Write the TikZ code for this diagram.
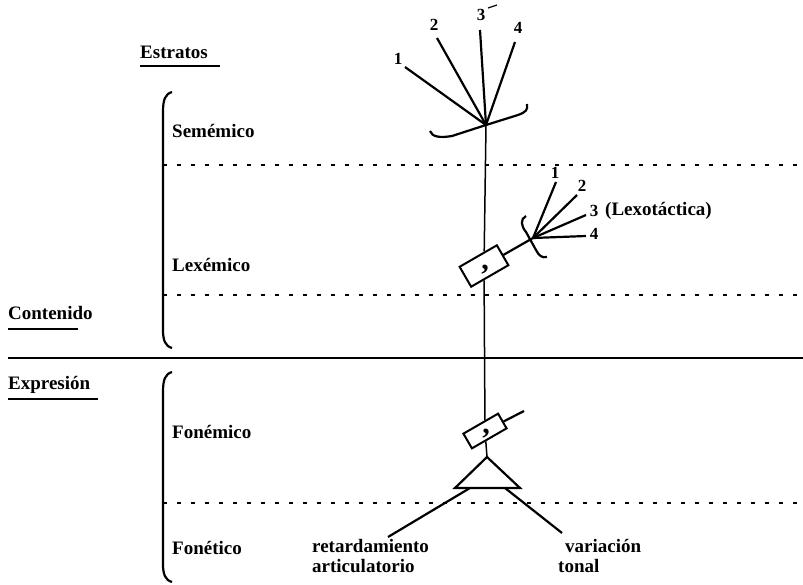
\documentclass[tikz,border=0pt]{standalone}
\usepackage{fontspec}
\setmainfont{Liberation Serif}
\begin{document}
\begin{tikzpicture}[x=1pt,y=-1pt,
  lab/.style={font=\fontsize{19}{22}\selectfont\bfseries, anchor=base west, inner sep=0pt},
  txt/.style={font=\fontsize{19}{22}\selectfont\bfseries, anchor=base west, inner sep=0pt},
  num/.style={font=\fontsize{17}{19}\selectfont\bfseries, inner sep=0pt},
  stroke/.style={line width=2.2pt},
  thin/.style={line width=1.5pt},
  dotline/.style={line width=1.8pt, dash pattern=on 4pt off 10pt},
  ubar/.style={line width=2.2pt},
  boxnode/.style={draw, line width=2pt, rotate=30, inner sep=0pt},
  commamark/.style={font=\fontsize{30}{30}\selectfont\bfseries, inner sep=0pt}
]
\useasboundingbox (0,0) rectangle (803,584);

% horizontal lines
\coordinate (d1a) at (163,165); \coordinate (d1b) at (803,165);
\coordinate (d2a) at (163,295); \coordinate (d2b) at (803,295);
\coordinate (d3a) at (163,503); \coordinate (d3b) at (803,503);
\coordinate (sa) at (8,358); \coordinate (sb) at (803,358);
\draw[dotline] (d1a) -- (d1b);
\draw[dotline] (d2a) -- (d2b);
\draw[dotline] (d3a) -- (d3b);
\draw[thin] (sa) -- (sb);

% left braces
\draw[stroke] (172,92) .. controls (165,94) and (163,100) .. (163,112) -- (163,330) .. controls (163,340) and (165,346) .. (172,348);
\draw[stroke] (172,372) .. controls (165,374) and (163,380) .. (163,392) -- (163,564) .. controls (163,574) and (165,580) .. (172,582);

% labels
\node[lab] (estr) at (140,58) {Estratos};
\draw[ubar] (estr.base west) ++(0,8) -- ++(80,0);
\node[lab] (sem) at (172,137) {Semémico};
\node[lab] (lex) at (172,271) {Lexémico};
\node[lab] (fon) at (172,438) {Fonémico};
\node[lab] (fot) at (172,554) {Fonético};
\node[lab] (cont) at (8,319) {Contenido};
\draw[ubar] (cont.base west) ++(0,10) -- ++(70,0);
\node[lab] (expr) at (8,389) {Expresión};
\draw[ubar] (expr.base west) ++(0,10) -- ++(90,0);
\node[txt] (ret) at (312,552) {retardamiento};
\node[txt] (art) at (312,572) {articulatorio};
\node[txt] (var) at (565,552) {variación};
\node[txt] (ton) at (558,572) {tonal};
\node[txt] (lexo) at (605,215) {(Lexotáctica)};

% top fan
\coordinate (f1) at (486,125);
\coordinate (t1) at (405,67);
\coordinate (t2) at (437,38);
\coordinate (t3) at (480,30);
\coordinate (t4) at (515,42);
\draw[stroke] (f1) -- (t1);
\draw[stroke] (f1) -- (t2);
\draw[stroke] (f1) -- (t3);
\draw[stroke] (f1) -- (t4);
\node[num] (n1) at (398,59) {1};
\node[num] (n2) at (434,25) {2};
\node[num] (n3) at (481,15) {3};
\node[num] (n4) at (518,28) {4};
\draw[line width=1.2pt] (488,8) -- (497,5);
\draw[stroke] (430,131) .. controls (432,137) and (440,138) .. (452,136) -- (f1) -- (518,115) .. controls (526,112) and (528,110) .. (527,104);

% lexeme box and fan
\node[boxnode, minimum width=43pt, minimum height=23pt] (lb) at (484,266) {};
\node[commamark] (c1) at (485,270) {,};
\coordinate (f2) at (533,238);
\draw[thin] (f1) -- (lb);
\draw[stroke] (lb) -- (f2);
\coordinate (u1) at (556,182);
\coordinate (u2) at (577,195);
\coordinate (u3) at (586,215);
\coordinate (u4) at (586,236);
\draw[stroke] (f2) -- (u1);
\draw[stroke] (f2) -- (u2);
\draw[stroke] (f2) -- (u3);
\draw[stroke] (f2) -- (u4);
\node[num] (m1) at (555,173) {1};
\node[num] (m2) at (582,186) {2};
\node[num] (m3) at (594,211) {3};
\node[num] (m4) at (594,234) {4};
\draw[stroke] (526,216) .. controls (520,219) and (521,226) .. (526,232) -- (536,250) .. controls (539,256) and (542,258) .. (547,257);

% phoneme box
\node[boxnode, minimum width=40pt, minimum height=17pt] (fb) at (485,431) {};
\node[commamark] (c2) at (486,434) {,};
\coordinate (stub) at (524,411);
\draw[thin] (lb) -- (fb);
\draw[stroke] (fb) -- (stub);

% triangle
\coordinate (ta) at (487,457);
\coordinate (tl) at (455,488);
\coordinate (tr) at (520,488);
\draw[thin] (fb) -- (ta);
\draw[stroke, line join=miter] (ta) -- (tl) -- (tr) -- cycle;
\coordinate (bl) at (470,488);
\coordinate (br) at (505,488);
\coordinate (el) at (388,537);
\coordinate (er) at (562,533);
\draw[stroke] (bl) -- (el);
\draw[stroke] (br) -- (er);
\end{tikzpicture}
\end{document}
